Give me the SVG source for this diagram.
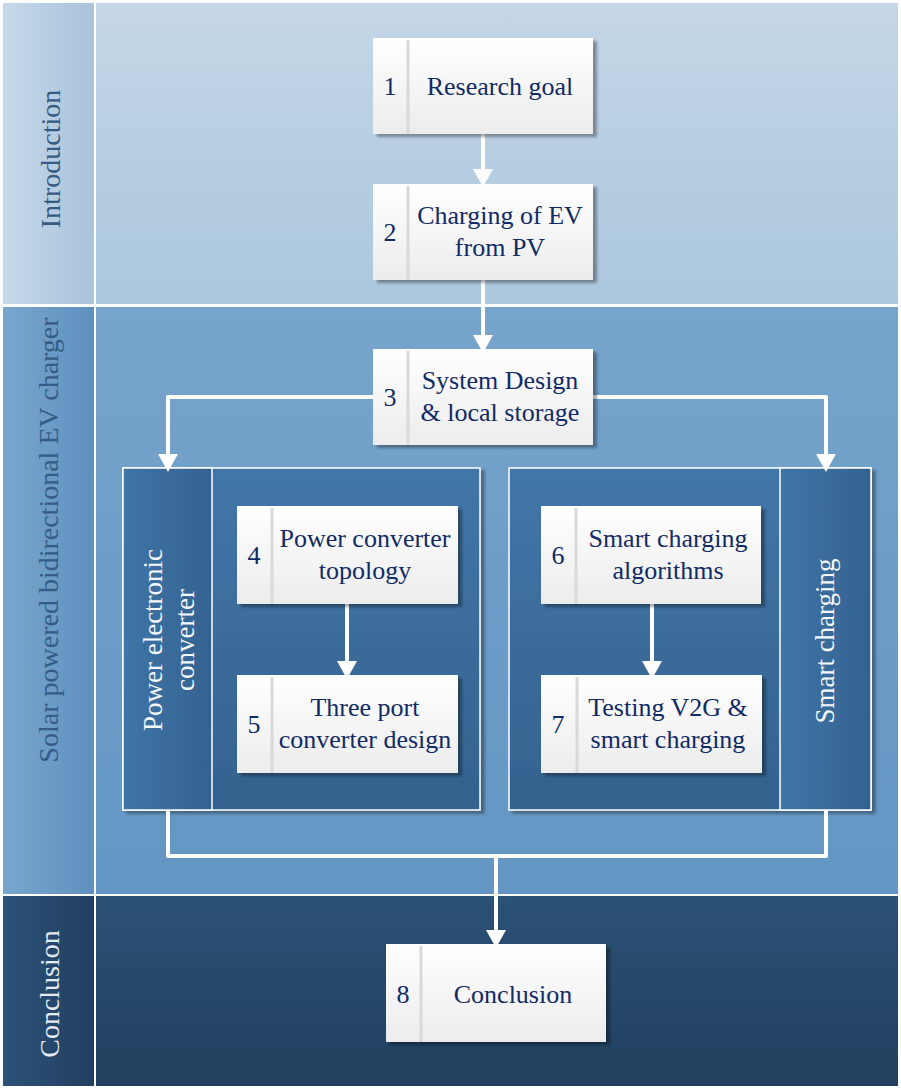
<svg xmlns="http://www.w3.org/2000/svg" width="901" height="1088" viewBox="0 0 901 1088">
<defs>
<linearGradient id="ih" x1="0" y1="0" x2="1" y2="0"><stop offset="0" stop-color="#c6d9ea"/><stop offset="1" stop-color="#a8c3db"/></linearGradient>
<linearGradient id="ib" x1="0" y1="0" x2="0" y2="1"><stop offset="0" stop-color="#c4d6e7"/><stop offset="1" stop-color="#abc7dd"/></linearGradient>
<linearGradient id="sh" x1="0" y1="0" x2="1" y2="0"><stop offset="0" stop-color="#79a6cd"/><stop offset="1" stop-color="#5f90bf"/></linearGradient>
<linearGradient id="sb" x1="0" y1="0" x2="0" y2="1"><stop offset="0" stop-color="#77a4cb"/><stop offset="1" stop-color="#6396c4"/></linearGradient>
<linearGradient id="ch" x1="0" y1="0" x2="1" y2="0"><stop offset="0" stop-color="#2c5279"/><stop offset="1" stop-color="#213f60"/></linearGradient>
<linearGradient id="cb" x1="0" y1="0" x2="0" y2="1"><stop offset="0" stop-color="#2b5175"/><stop offset="1" stop-color="#21405f"/></linearGradient>
<linearGradient id="gb" x1="0" y1="0" x2="0" y2="1"><stop offset="0" stop-color="#4176a8"/><stop offset="1" stop-color="#35628e"/></linearGradient>
<linearGradient id="gh" x1="0" y1="0" x2="1" y2="0"><stop offset="0" stop-color="#3f75a7"/><stop offset="1" stop-color="#346290"/></linearGradient>
<linearGradient id="nb" x1="0" y1="0" x2="0" y2="1"><stop offset="0" stop-color="#ffffff"/><stop offset="1" stop-color="#ececec"/></linearGradient>
<filter id="shd" x="-10%" y="-10%" width="125%" height="130%">
<feGaussianBlur in="SourceAlpha" stdDeviation="1.5"/>
<feOffset dx="4" dy="3" result="o"/>
<feComponentTransfer><feFuncA type="linear" slope="0.35"/></feComponentTransfer>
<feMerge><feMergeNode/><feMergeNode in="SourceGraphic"/></feMerge>
</filter>
<marker id="ah" viewBox="0 0 18 20" refX="6" refY="10" markerWidth="18" markerHeight="20" markerUnits="userSpaceOnUse" orient="auto">
<path d="M0,0 L18,10 L0,20 z" fill="#ffffff"/>
</marker>
</defs>
<style>
.node-box{fill:url(#nb);filter:url(#shd)}
.sep{stroke:#d9d9d9;stroke-width:3}
.t{font-family:"Liberation Serif","Times New Roman",serif;font-size:26px;fill:#112b66;text-anchor:middle}
.hd{font-family:"Liberation Serif","Times New Roman",serif;font-size:28px;text-anchor:middle}
.gt{font-family:"Liberation Serif","Times New Roman",serif;font-size:27px;fill:#f4f7fa;text-anchor:middle}
.conn{fill:none;stroke:#ffffff;stroke-width:4;stroke-linejoin:round}
.grp{stroke:#ffffff;stroke-width:1.5}
</style>
<rect x="0" y="0" width="901" height="1088" fill="#ffffff"/>
<g id="lane-intro">
<rect x="3" y="3" width="91" height="301" fill="url(#ih)"/>
<rect x="96" y="3" width="802" height="301" fill="url(#ib)"/>
<text class="hd" fill="#375a83" transform="translate(60,159) rotate(-90)">Introduction</text>
</g>
<g id="lane-solar">
<rect x="3" y="307" width="91" height="587" fill="url(#sh)"/>
<rect x="96" y="307" width="802" height="587" fill="url(#sb)"/>
<text class="hd" fill="#345c87" transform="translate(58,540) rotate(-90)">Solar powered bidirectional EV charger</text>
</g>
<g id="lane-conclusion">
<rect x="3" y="896" width="91" height="190" fill="url(#ch)"/>
<rect x="96" y="896" width="802" height="190" fill="url(#cb)"/>
<text class="hd" fill="#e4ebf2" transform="translate(59,994) rotate(-90)">Conclusion</text>
</g>
<g id="group-power">
<rect class="grp" x="123" y="468" width="357" height="342" fill="url(#gb)" filter="url(#shd)"/>
<rect class="grp" x="123" y="468" width="89" height="342" fill="url(#gh)"/>
<text class="gt" transform="translate(162,640) rotate(-90)">Power electronic</text>
<text class="gt" transform="translate(194,640) rotate(-90)">converter</text>
</g>
<g id="group-smart">
<rect class="grp" x="509" y="468" width="362" height="342" fill="url(#gb)" filter="url(#shd)"/>
<rect class="grp" x="780" y="468" width="91" height="342" fill="url(#gh)"/>
<text class="gt" transform="translate(834,641) rotate(-90)">Smart charging</text>
</g>
<g id="connectors">
<path class="conn" d="M483,134 V175" marker-end="url(#ah)"/>
<path class="conn" d="M483,280 V341" marker-end="url(#ah)"/>
<path class="conn" d="M380,397 H168 V460" marker-end="url(#ah)"/>
<path class="conn" d="M586,397 H826 V460" marker-end="url(#ah)"/>
<path class="conn" d="M347,604 V667" marker-end="url(#ah)"/>
<path class="conn" d="M652,604 V667" marker-end="url(#ah)"/>
<path class="conn" d="M168,810 V856 H826 V810"/>
<path class="conn" d="M496,856 V936" marker-end="url(#ah)"/>
</g>
<g id="node1">
<rect class="node-box" x="373" y="38" width="220" height="96"/>
<line class="sep" x1="408" y1="40" x2="408" y2="134"/>
<text class="t" x="390" y="95">1</text>
<text class="t" x="500" y="95">Research goal</text>
</g>
<g id="node2">
<rect class="node-box" x="373" y="184" width="220" height="96"/>
<line class="sep" x1="408" y1="186" x2="408" y2="280"/>
<text class="t" x="390" y="241">2</text>
<text class="t" x="500" y="224">Charging of EV</text>
<text class="t" x="500" y="256">from PV</text>
</g>
<g id="node3">
<rect class="node-box" x="373" y="349" width="220" height="96"/>
<line class="sep" x1="408" y1="351" x2="408" y2="445"/>
<text class="t" x="390" y="406">3</text>
<text class="t" x="500" y="389">System Design</text>
<text class="t" x="500" y="421">&amp; local storage</text>
</g>
<g id="node4">
<rect class="node-box" x="237" y="506" width="221" height="98"/>
<line class="sep" x1="272" y1="508" x2="272" y2="604"/>
<text class="t" x="254" y="564">4</text>
<text class="t" x="365" y="547">Power converter</text>
<text class="t" x="365" y="579">topology</text>
</g>
<g id="node5">
<rect class="node-box" x="237" y="675" width="221" height="98"/>
<line class="sep" x1="272" y1="677" x2="272" y2="773"/>
<text class="t" x="254" y="733">5</text>
<text class="t" x="365" y="716">Three port</text>
<text class="t" x="365" y="748">converter design</text>
</g>
<g id="node6">
<rect class="node-box" x="541" y="506" width="220" height="98"/>
<line class="sep" x1="576" y1="508" x2="576" y2="604"/>
<text class="t" x="558" y="564">6</text>
<text class="t" x="668" y="547">Smart charging</text>
<text class="t" x="668" y="579">algorithms</text>
</g>
<g id="node7">
<rect class="node-box" x="541" y="675" width="221" height="98"/>
<line class="sep" x1="577" y1="677" x2="577" y2="773"/>
<text class="t" x="558" y="733">7</text>
<text class="t" x="668" y="716">Testing V2G &amp;</text>
<text class="t" x="668" y="748">smart charging</text>
</g>
<g id="node8">
<rect class="node-box" x="386" y="944" width="220" height="98"/>
<line class="sep" x1="421" y1="946" x2="421" y2="1042"/>
<text class="t" x="403" y="1003">8</text>
<text class="t" x="513" y="1003">Conclusion</text>
</g>
</svg>
